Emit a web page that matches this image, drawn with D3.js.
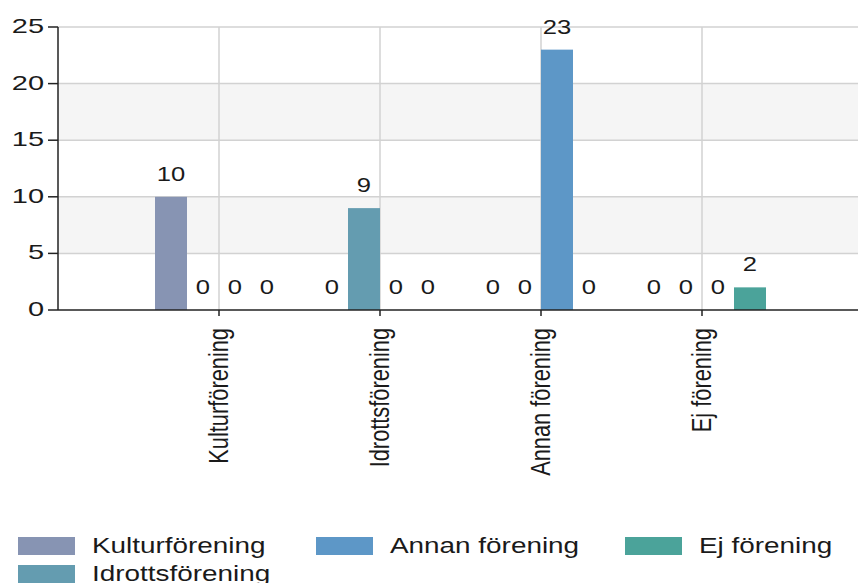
<!DOCTYPE html>
<html>
<head>
<meta charset="utf-8">
<script src="https://cdn.jsdelivr.net/npm/d3@7"></script>
<style>
  body { margin: 0; background: #fff; }
  text { font-family: "Liberation Sans", Arial, sans-serif; fill: #1a1a1a; }
</style>
</head>
<body>
<svg id="chart" width="858" height="583"></svg>
<script>
// categories on the x axis and the series (one per colour)
const categories = ["Kulturförening", "Idrottsförening", "Annan förening", "Ej förening"];
const series = ["Kulturförening", "Idrottsförening", "Annan förening", "Ej förening"];
const colors = ["#8794b3", "#649cb0", "#5d97c7", "#4ba39a"];
// values[serie][category]
const values = [
  [10, 0, 0, 0],
  [0, 9, 0, 0],
  [0, 0, 23, 0],
  [0, 0, 0, 2]
];
const yTicks = [0, 5, 10, 15, 20, 25];
const legendOrder = ["Kulturförening", "Annan förening", "Ej förening", "Idrottsförening"];

const svg = d3.select("#chart");
const plotLeft = 58, plotRight = 858, plotTop = 27, plotBottom = 310;

const y = d3.scaleLinear().domain([0, 25]).range([plotBottom, plotTop]);
const x0 = d3.scaleBand().domain(categories).range([138.5, 782.5]);
const groupW = 128;
const x1 = d3.scaleBand().domain(series).range([0, groupW]);
const groupStart = c => x0(c) + (x0.bandwidth() - groupW) / 2;
const center = c => x0(c) + x0.bandwidth() / 2;

// bakgrundsband
const bands = [[5, 10], [15, 20]];
svg.selectAll("rect.band").data(bands).enter().append("rect")
  .attr("x", plotLeft).attr("width", plotRight - plotLeft)
  .attr("y", d => y(d[1])).attr("height", d => y(d[0]) - y(d[1]))
  .attr("fill", "#f5f5f5");

// horisontella stödlinjer
svg.selectAll("line.hgrid").data(yTicks.filter(t => t > 0)).enter().append("line")
  .attr("x1", plotLeft).attr("x2", plotRight)
  .attr("y1", d => y(d)).attr("y2", d => y(d))
  .attr("stroke", "#d2d2d2").attr("stroke-width", 1.5);

// vertikala stödlinjer
svg.selectAll("line.vgrid").data(categories).enter().append("line")
  .attr("x1", center).attr("x2", center)
  .attr("y1", plotTop).attr("y2", plotBottom)
  .attr("stroke", "#d2d2d2").attr("stroke-width", 1.5);

// staplar
const cells = [];
series.forEach((s, i) => categories.forEach((c, j) => cells.push({ s, c, v: values[i][j], i })));

svg.selectAll("rect.bar").data(cells.filter(d => d.v > 0)).enter().append("rect")
  .attr("x", d => groupStart(d.c) + x1(d.s))
  .attr("width", x1.bandwidth())
  .attr("y", d => y(d.v))
  .attr("height", d => y(0) - y(d.v))
  .attr("fill", d => colors[d.i]);

// värdeetiketter
svg.selectAll("text.val").data(cells).enter().append("text")
  .attr("transform", d => `translate(${groupStart(d.c) + x1(d.s) + x1.bandwidth() / 2},${y(d.v) - 16}) scale(1.22,1)`)
  .attr("text-anchor", "middle")
  .attr("font-size", 21)
  .text(d => d.v);

// axlar
svg.append("line").attr("x1", plotLeft).attr("x2", plotLeft).attr("y1", plotTop).attr("y2", plotBottom)
  .attr("stroke", "#222").attr("stroke-width", 1.5);
svg.append("line").attr("x1", plotLeft).attr("x2", plotRight).attr("y1", plotBottom).attr("y2", plotBottom)
  .attr("stroke", "#222").attr("stroke-width", 1.5);

svg.selectAll("line.ytick").data(yTicks).enter().append("line")
  .attr("x1", plotLeft - 10).attr("x2", plotLeft)
  .attr("y1", d => y(d)).attr("y2", d => y(d))
  .attr("stroke", "#222").attr("stroke-width", 1.5);
svg.selectAll("text.ylab").data(yTicks).enter().append("text")
  .attr("transform", d => `translate(44,${y(d) + 6}) scale(1.38,1)`)
  .attr("text-anchor", "end")
  .attr("font-size", 21)
  .text(d => d);

svg.selectAll("line.xtick").data(categories).enter().append("line")
  .attr("x1", center).attr("x2", center)
  .attr("y1", plotBottom).attr("y2", plotBottom + 6)
  .attr("stroke", "#222").attr("stroke-width", 1.5);

svg.selectAll("text.xlab").data(categories).enter().append("text")
  .attr("transform", d => `translate(${center(d)},328) scale(1.27,1) rotate(-90)`)
  .attr("text-anchor", "end")
  .attr("dy", "0.33em")
  .attr("font-size", 21.8)
  .text(d => d);

// legend
const legend = svg.selectAll("g.leg").data(legendOrder).enter().append("g")
  .attr("transform", (d, i) => `translate(${[18, 316, 625][i % 3]},${537 + Math.floor(i / 3) * 28})`);
legend.append("rect")
  .attr("width", 57).attr("height", 18)
  .attr("fill", d => colors[series.indexOf(d)]);
legend.append("text")
  .attr("transform", "translate(74,16) scale(1.28,1)")
  .attr("font-size", 21.8)
  .text(d => d);
</script>
</body>
</html>
